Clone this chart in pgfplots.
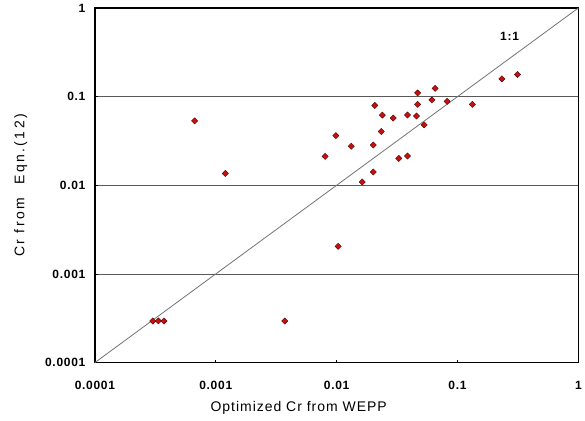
\documentclass[border=0pt]{standalone}
\usepackage{fontspec}
\setmainfont{Liberation Sans}
\usepackage{pgfplots}
\pgfplotsset{compat=1.18}
\definecolor{ptred}{HTML}{C81010}
\begin{document}
\begin{tikzpicture}[x=1pt,y=1pt]
\begin{loglogaxis}[
  scale only axis,
  width=484pt, height=355pt,
  xmin=1e-4, xmax=1, ymin=1e-4, ymax=1,
  xtick={1e-4,1e-3,1e-2,1e-1,1},
  xticklabels={0.0001,0.001,0.01,0.1,1},
  ytick={1e-4,1e-3,1e-2,1e-1,1},
  yticklabels={0.0001,0.001,0.01,0.1,1},
  xminorticks=false, yminorticks=false,
  tick align=inside, xtick pos=lower, ytick pos=left,
  major tick length=3pt,
  ymajorgrids, major grid style={black!65, line width=0.8pt},
  axis line style={black, line width=1.5pt},
  tick style={black, line width=0.6pt},
  ticklabel style={font=\fontsize{12}{13}\selectfont\bfseries\addfontfeature{LetterSpace=6}},
  xticklabel style={yshift=-15pt},
  yticklabel style={xshift=-6pt},
  /pgf/number format/assume math mode=true,
  xlabel={Optimized Cr from WEPP},
  ylabel={Cr from\ \ Eqn.\,(12)},
  xlabel style={font=\fontsize{14}{15}\selectfont\addfontfeature{LetterSpace=7}, yshift=-5pt, xshift=-38pt},
  ylabel style={font=\fontsize{14}{15}\selectfont\addfontfeature{LetterSpace=18}, yshift=11pt},
  clip=false,
]
\addplot[black!55, line width=0.8pt] coordinates {(1e-4,1e-4) (1,1)};
\addplot[only marks, mark=square*, mark size=2.2pt,
  mark options={rotate=45, fill=ptred, draw=black!70!red, line width=0.4pt}] coordinates {
(0.000668,0.0533)
(0.00120,0.0136)
(0.00985,0.0363)
(0.00803,0.0212)
(0.233,0.159)
(0.314,0.178)
(0.0653,0.124)
(0.0468,0.110)
(0.0614,0.0917)
(0.0821,0.0885)
(0.133,0.0818)
(0.0468,0.0818)
(0.0207,0.0796)
(0.0239,0.0620)
(0.0294,0.0573)
(0.0386,0.0620)
(0.0458,0.0604)
(0.0530,0.0481)
(0.0234,0.0404)
(0.0132,0.0276)
(0.0201,0.0285)
(0.0327,0.0201)
(0.0386,0.0214)
(0.0201,0.0141)
(0.0163,0.0109)
(0.0103,0.00205)
(0.000301,0.000295)
(0.000335,0.000295)
(0.000373,0.000295)
(0.00372,0.000295)
};
\node[font=\fontsize{12}{13}\selectfont\bfseries\addfontfeature{LetterSpace=6}] at (axis cs:0.27,0.48) {1:1};
\end{loglogaxis}
\path (current axis.south west) ++(-95pt,-58pt) rectangle ++(585pt,421pt);
\end{tikzpicture}
\end{document}
